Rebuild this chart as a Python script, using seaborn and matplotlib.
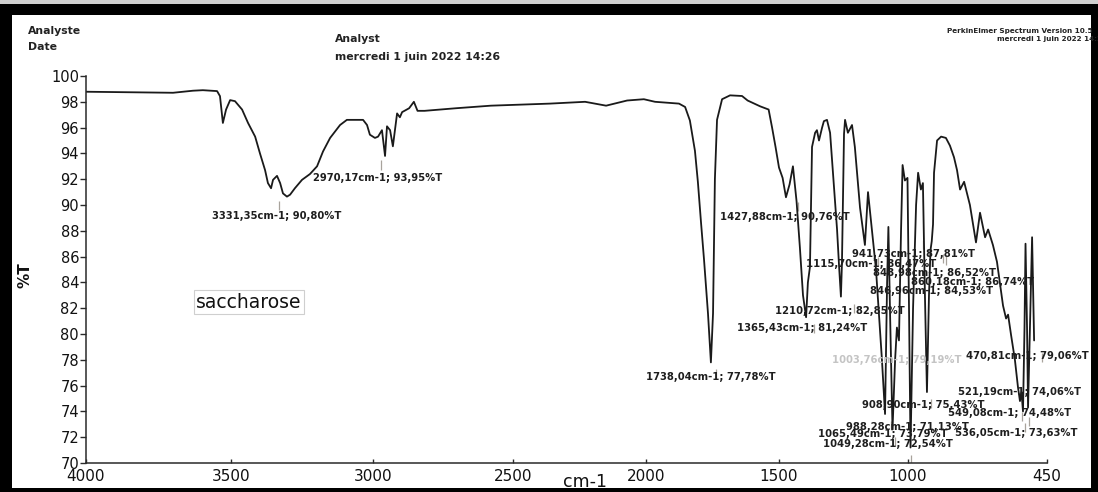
import numpy as np
import pandas as pd
import matplotlib
matplotlib.use("Agg")
import matplotlib.pyplot as plt
import seaborn as sns
from matplotlib.patches import Rectangle
from matplotlib.ticker import FixedLocator, NullLocator

# ---------------- data ----------------
wavenumber = [4000, 3700, 3631, 3597, 3548, 3538, 3528, 3517, 3503, 3486, 3461, 3440,
              3415, 3398, 3380, 3370, 3359, 3352, 3338, 3327, 3317, 3303, 3292, 3275,
              3250, 3222, 3197, 3176, 3151, 3116, 3092, 3035, 3021, 3011, 2993, 2982,
              2968, 2957, 2950, 2939, 2929, 2914, 2904, 2896, 2871, 2854, 2841, 2816,
              2704, 2579, 2361, 2229, 2150, 2071, 2008, 1966, 1876, 1853, 1835, 1816,
              1805, 1793, 1782, 1767, 1756, 1748, 1741, 1733, 1714, 1684, 1639, 1618,
              1571, 1539, 1526, 1513, 1500, 1486, 1473, 1459, 1446, 1432, 1419, 1407,
              1395, 1388, 1380, 1372, 1360, 1353, 1345, 1333, 1326, 1314, 1302, 1291,
              1275, 1267, 1260, 1256, 1252, 1248, 1244, 1233, 1217, 1206, 1186, 1167,
              1155, 1124, 1101, 1089, 1081, 1076, 1070, 1060, 1050, 1043, 1035, 1027,
              1021, 1012, 1002, 996, 990, 980, 968, 960, 949, 941, 933, 925,
              917, 911, 906, 901, 897, 885, 869, 850, 834, 818, 806, 794,
              778, 755, 739, 731, 715, 695, 683, 664, 648, 624, 612, 604,
              592, 577, 565, 557, 551, 545, 539, 535, 529, 525, 517, 509,
              505, 501]
transmittance = [98.78, 98.70, 98.86, 98.90, 98.83, 98.44, 96.36, 97.40, 98.13, 98.05, 97.40, 96.36,
                 95.30, 94.00, 92.70, 91.70, 91.30, 91.95, 92.26, 91.70, 90.90, 90.65, 90.80, 91.30,
                 91.95, 92.40, 93.00, 94.15, 95.20, 96.20, 96.60, 96.60, 96.20, 95.45, 95.20, 95.30,
                 95.80, 93.80, 96.10, 95.80, 94.55, 97.10, 96.80, 97.20, 97.50, 98.00, 97.30, 97.30,
                 97.50, 97.70, 97.86, 98.00, 97.70, 98.10, 98.20, 98.00, 97.86, 97.60, 96.55, 94.20,
                 91.80, 88.60, 85.80, 81.60, 77.80, 81.60, 92.00, 96.60, 98.20, 98.50, 98.45, 98.10,
                 97.65, 97.40, 96.00, 94.50, 92.90, 92.10, 90.60, 91.60, 93.00, 90.30, 86.70, 83.00,
                 81.30, 84.00, 85.20, 94.50, 95.60, 95.80, 95.00, 96.00, 96.50, 96.60, 95.60, 92.50,
                 88.10, 85.20, 82.90, 85.50, 90.40, 95.50, 96.60, 95.60, 96.20, 94.50, 89.80, 86.90,
                 91.00, 85.00, 78.00, 73.80, 84.00, 88.30, 82.00, 72.60, 78.00, 80.50, 79.50, 88.00,
                 93.10, 91.90, 92.10, 82.00, 71.20, 82.00, 90.00, 92.50, 91.20, 91.70, 83.00, 75.50,
                 83.00, 86.50, 87.20, 88.50, 92.50, 95.00, 95.30, 95.20, 94.60, 93.70, 92.70, 91.20,
                 91.80, 90.00, 88.10, 87.10, 89.40, 87.50, 88.10, 86.90, 85.60, 82.20, 81.20, 81.50,
                 79.90, 78.00, 75.90, 74.80, 75.50, 74.00, 80.50, 87.00, 80.50, 74.30, 81.00, 87.50,
                 83.50, 79.50]

x_ticks = [4000, 3500, 3000, 2500, 2000, 1500, 1000, 450]
y_ticks = list(range(70, 101, 2))

# labelled peaks (as printed on the chart)
peak_wn = [3331.35, 2970.17, 1427.88, 1738.04, 941.73, 1115.70, 848.98, 860.18, 846.96,
           1210.72, 1365.43, 470.81, 521.19, 908.90, 549.08, 988.28, 1065.49, 536.05, 1049.28]
peak_T = [90.80, 93.95, 90.76, 77.78, 87.81, 86.47, 86.52, 86.74, 84.53,
          82.85, 81.24, 79.06, 74.06, 75.43, 74.48, 71.13, 73.79, 73.63, 72.54]
faint_label = "1003,76cm-1; 79,19%T"
sample_name = "saccharose"


def fr(v):
    return f"{v:.2f}".replace('.', ',')


peak_labels = [f"{fr(w)}cm-1; {fr(t)}%T" for w, t in zip(peak_wn, peak_T)]

# ---------------- layout (pixel positions in the 1098x492 picture) ----------------
W, H = 1098, 492
label_pos = [(212, 216), (313, 178), (720, 217), (646, 377), (852, 254), (806, 264),
             (873, 273), (911, 282), (870, 291), (775, 311), (737, 328), (966, 356),
             (958, 392), (862, 405), (948, 413), (846, 427), (818, 434), (955, 433),
             (823, 444)]
tick_px = [86, 231, 373, 513, 646, 779, 908, 1047]   # where the printed x ticks sit

sns.set_style("white")
plt.rcParams['font.family'] = ['DejaVu Sans']

fig = plt.figure(figsize=(W / 100, H / 100), dpi=100)
fig.patch.set_facecolor('black')
fig.add_artist(Rectangle((12 / W, 4 / H), (1091 - 12) / W, (477 - 4) / H,
                         transform=fig.transFigure, facecolor='white', edgecolor='none', zorder=0))
fig.add_artist(Rectangle((0, (H - 4) / H), 1, 4 / H, transform=fig.transFigure,
                         facecolor='#cfcfcf', edgecolor='none', zorder=0))

ax = fig.add_axes([86 / W, (H - 463) / H, (1047 - 86) / W, (463 - 76) / H])
ax.set_facecolor('none')

# piecewise-linear x scale reproducing the printed (distorted) wavenumber axis;
# forward is increasing in wavenumber, the axis is then inverted with xlim
wk = np.array(x_ticks[::-1], dtype=float)
pk = -np.array(tick_px[::-1], dtype=float)
s_lo = (pk[1] - pk[0]) / (wk[1] - wk[0])
s_hi = (pk[-1] - pk[-2]) / (wk[-1] - wk[-2])
wk_ext = np.concatenate([[wk[0] - 1e5], wk, [wk[-1] + 1e5]])
pk_ext = np.concatenate([[pk[0] - 1e5 * s_lo], pk, [pk[-1] + 1e5 * s_hi]])


def fwd(w):
    return np.interp(w, wk_ext, pk_ext)


def inv(u):
    return np.interp(u, pk_ext, wk_ext)


ax.set_xscale('function', functions=(fwd, inv))

df = pd.DataFrame({"wavenumber": wavenumber, "T": transmittance})
sns.lineplot(data=df, x="wavenumber", y="T", ax=ax, sort=False, estimator=None,
             color='#1a1a1a', linewidth=1.3)

# small peak markers under the labelled minima
pk_arr = np.array(peak_T)
ax.vlines(peak_wn, pk_arr - 1.2, pk_arr - 0.5, colors='#a8a39c', linewidth=0.9, zorder=1)

ax.set_xlim(4000, 450)
ax.set_ylim(70, 100)
ax.xaxis.set_major_locator(FixedLocator(x_ticks))
ax.xaxis.set_minor_locator(NullLocator())
ax.set_xticklabels([str(t) for t in x_ticks])
ax.set_yticks(y_ticks)
ax.set_xlabel("")
ax.set_ylabel("")
for side in ['top', 'right']:
    ax.spines[side].set_visible(False)
for side in ['left', 'bottom']:
    ax.spines[side].set_linewidth(1.1)
    ax.spines[side].set_color('#2a2a2a')
ax.tick_params(axis='y', direction='out', length=4, width=1, pad=1,
               labelsize=10.5, colors='#2a2a2a', labelcolor='#111111', left=True)
ax.tick_params(axis='x', direction='in', length=3, width=1, pad=4,
               labelsize=11, colors='#2a2a2a', labelcolor='#111111', bottom=True)


def ftxt(x, y, s, **kw):
    fig.text(x / W, 1 - y / H, s, **kw)


# header texts
ftxt(28, 31, "Analyste", fontsize=7.8, fontweight='bold', va='center', color='#222')
ftxt(28, 47, "Date", fontsize=7.8, fontweight='bold', va='center', color='#222')
ftxt(335, 39, "Analyst", fontsize=7.8, fontweight='bold', va='center', color='#222')
ftxt(335, 57, "mercredi 1 juin 2022 14:26", fontsize=7.8, fontweight='bold', va='center', color='#222')
ftxt(947, 31, "PerkinElmer Spectrum Version 10.5", fontsize=5.2, fontweight='bold', va='center', color='#222')
ftxt(997, 39, "mercredi 1 juin 2022 14:27", fontsize=5.2, fontweight='bold', va='center', color='#222')

# axis titles
ftxt(25, 275, "%T", fontsize=11, fontweight='bold', rotation=90, ha='center', va='center', color='#111')
ftxt(585, 482, "cm-1", fontsize=12.5, ha='center', va='center', color='#111')

# sample name
ftxt(196, 302, sample_name, fontsize=13.5, va='center', color='#111',
     bbox=dict(boxstyle='square,pad=0.12', fc='white', ec='#cfcfcf', lw=0.8))

# peak labels
for (px, py), s in zip(label_pos, peak_labels):
    ftxt(px, py, s, fontsize=7.2, fontweight='bold', va='center', color='#1e1e1e')
ftxt(832, 360, faint_label, fontsize=7.2, fontweight='bold', va='center', color='#c4c4c4')

fig.savefig("out.png", dpi=100)
